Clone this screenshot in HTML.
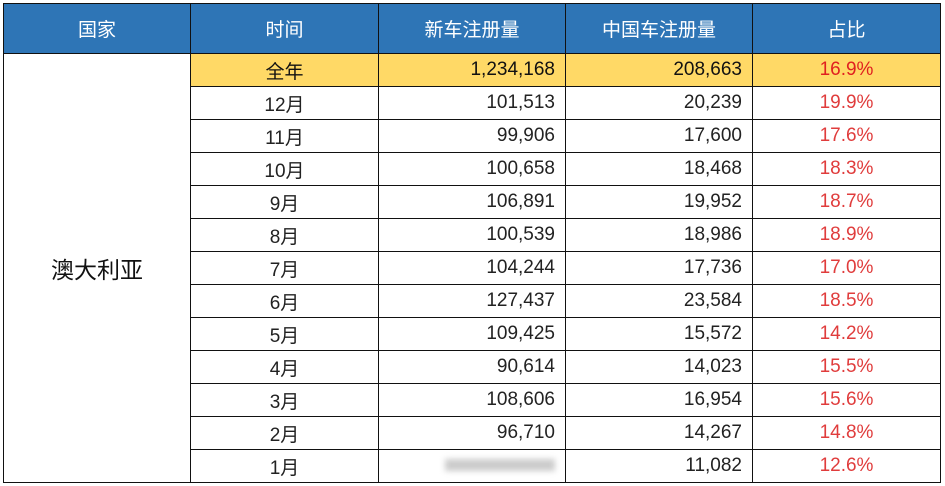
<!DOCTYPE html>
<html><head><meta charset="utf-8"><style>
html,body{margin:0;padding:0;background:#fff;width:945px;height:486px;overflow:hidden}
table{position:absolute;left:3px;top:3px;border-collapse:collapse;table-layout:fixed;
font-family:"Liberation Sans","Noto Sans CJK SC",sans-serif;color:#222}
td,th{border:1.5px solid #111;padding:0;height:32px;font-size:19px;font-weight:normal}
th{background:#2E75B6;color:#fff;height:49px;font-size:19px}
td.c{text-align:center}
td.r{text-align:right;padding-right:10px}
td.p{text-align:center;color:#E03C3C}
tr.y td{background:#FFD966;color:#111}
tr.y td.p{color:#E02020}
tr.y td.country{background:#fff;text-align:center;font-size:23px;color:#111}
.blur{display:inline-block;width:110px;height:12px;background:#ccc;filter:blur(3px)}
</style></head><body>
<table>
<colgroup><col style="width:187px"><col style="width:188px"><col style="width:187px"><col style="width:187px"><col style="width:188px"></colgroup>
<tr>
<th>国家</th>
<th>时间</th>
<th>新车注册量</th>
<th>中国车注册量</th>
<th>占比</th></tr>
<tr class="y">
<td rowspan="13" class="country">澳大利亚</td>
<td class="c">全年</td><td class="r">1,234,168</td><td class="r">208,663</td><td class="p">16.9%</td></tr>
<tr><td class="c">12月</td><td class="r">101,513</td><td class="r">20,239</td><td class="p">19.9%</td></tr>
<tr><td class="c">11月</td><td class="r">99,906</td><td class="r">17,600</td><td class="p">17.6%</td></tr>
<tr><td class="c">10月</td><td class="r">100,658</td><td class="r">18,468</td><td class="p">18.3%</td></tr>
<tr><td class="c">9月</td><td class="r">106,891</td><td class="r">19,952</td><td class="p">18.7%</td></tr>
<tr><td class="c">8月</td><td class="r">100,539</td><td class="r">18,986</td><td class="p">18.9%</td></tr>
<tr><td class="c">7月</td><td class="r">104,244</td><td class="r">17,736</td><td class="p">17.0%</td></tr>
<tr><td class="c">6月</td><td class="r">127,437</td><td class="r">23,584</td><td class="p">18.5%</td></tr>
<tr><td class="c">5月</td><td class="r">109,425</td><td class="r">15,572</td><td class="p">14.2%</td></tr>
<tr><td class="c">4月</td><td class="r">90,614</td><td class="r">14,023</td><td class="p">15.5%</td></tr>
<tr><td class="c">3月</td><td class="r">108,606</td><td class="r">16,954</td><td class="p">15.6%</td></tr>
<tr><td class="c">2月</td><td class="r">96,710</td><td class="r">14,267</td><td class="p">14.8%</td></tr>
<tr><td class="c">1月</td><td class="r"><span class="blur"></span></td><td class="r">11,082</td><td class="p">12.6%</td></tr>
</table>
</body></html>
